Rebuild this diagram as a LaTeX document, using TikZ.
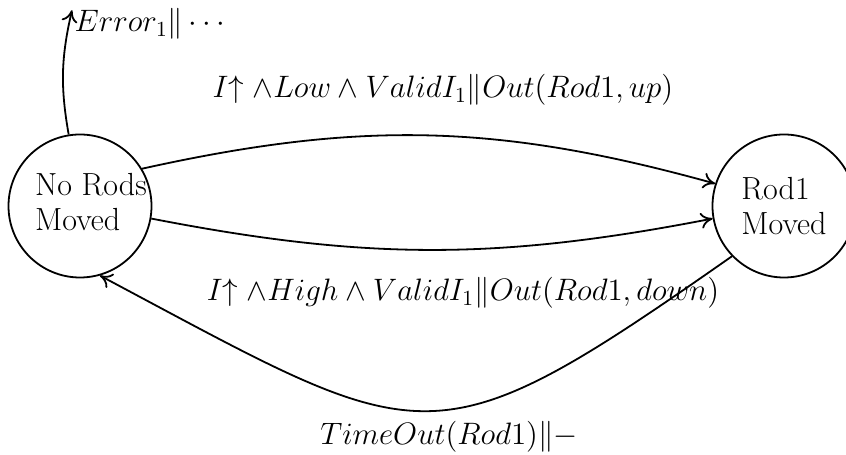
\documentclass[tikz,border=0pt]{standalone}
\usepackage{amsmath,amssymb}
\usetikzlibrary{arrows.meta,positioning}
\tikzstyle{mstate}=[circle,draw,line width=0.9pt,minimum size=71.5pt,inner sep=0pt,
                  align=left,font=\fontsize{16}{17.5}\selectfont]
\tikzstyle{lbl}=[inner sep=1pt,scale=1.076,font=\fontsize{14.4}{17}\selectfont]
\tikzstyle{arrow}=[-{To[length=6pt,width=8pt]},line width=0.9pt]

\begin{document}
\begin{tikzpicture}[x=0.5pt,y=0.5pt]
      \useasboundingbox (0,0) rectangle (846,455);
      \node[mstate,label={[align=left,font=\fontsize{16}{17.5}\selectfont,xshift=5.5pt,yshift=2pt]center:No Rods\\Moved}] (none) at (80,249) {};
      \node[mstate] (rod1) at (784,249) {Rod1\\Moved};
      \node[lbl,anchor=base west] (err) at (72,423) {$Error_1\|\cdots$};
      \node[lbl] (up) at (443,365) {$I{\uparrow}\;{\wedge}Low \wedge ValidI_1\|Out(Rod1, up)$};
      \node[lbl] (down) at (463,162) {$I{\uparrow}\;{\wedge}High \wedge ValidI_1\|Out(Rod1, down)$};
      \node[lbl] (tout) at (449,18) {$TimeOut(Rod1)\|{-}$};
      \coordinate (errtip) at ([yshift=-2pt]err.north west);
      \draw[arrow] (none.31) to[bend left=14] (rod1.162);
      \draw[arrow] (none.-10) to[bend right=11] (rod1.190);
      \draw[arrow] (rod1.224) to[out=215,in=-28,looseness=1.5] (none.-74);
      \draw[arrow] (none.99) to[out=100,in=-103] (errtip);
    \end{tikzpicture}
\end{document}
